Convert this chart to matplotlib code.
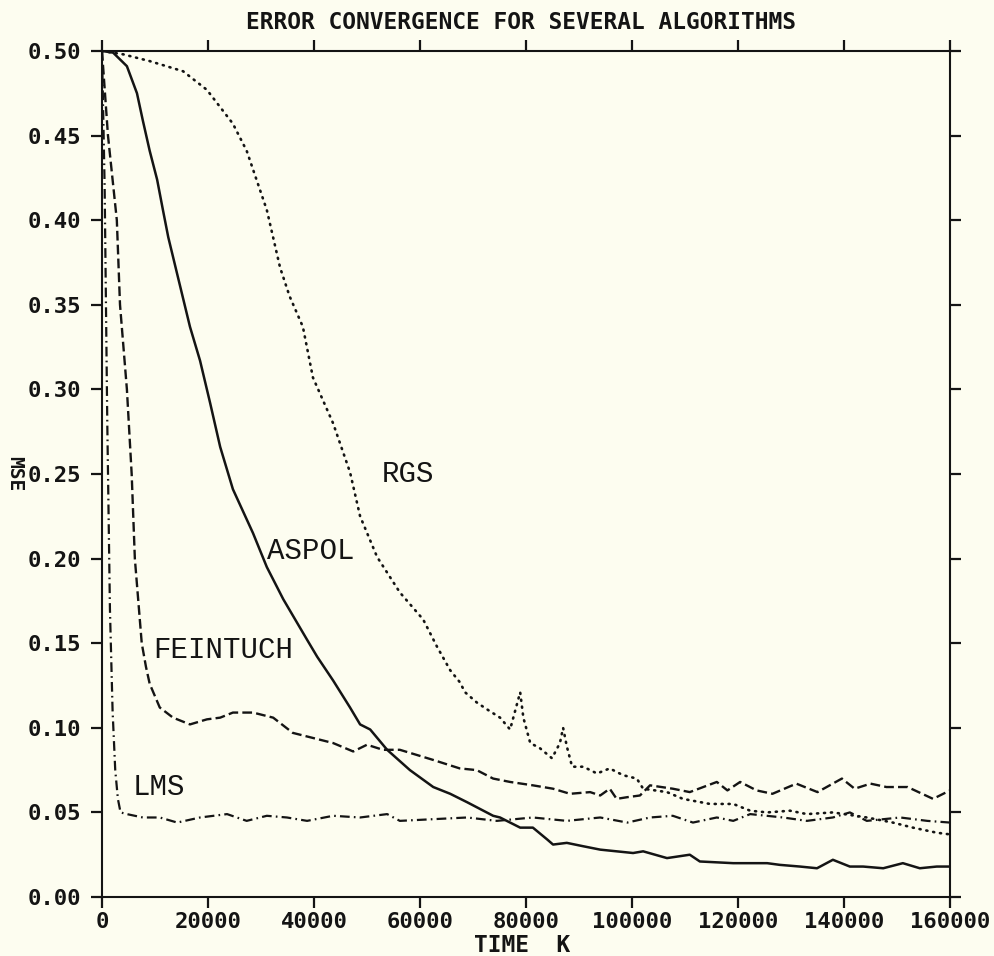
import matplotlib.pyplot as plt

plt.rcParams['lines.scale_dashes'] = False

# ---- mean squared error vs iteration count ----
lms_k = [0, 500, 1000, 1500, 2000, 2500, 3000, 3500, 4700, 7700, 10900, 14200,
         18500, 23600, 27300, 31100, 34900, 38700, 43600, 48700, 53800, 56200,
         62500, 68900, 74500, 81300, 87700, 94000, 99100, 103400, 107700,
         111500, 116000, 119100, 122300, 128500, 133000, 137900, 141100,
         144300, 150600, 155700, 160000]
lms_mse = [0.500, 0.420, 0.280, 0.170, 0.110, 0.075, 0.058, 0.050, 0.049,
           0.047, 0.047, 0.044, 0.047, 0.049, 0.045, 0.048, 0.047, 0.045,
           0.048, 0.047, 0.049, 0.045, 0.046, 0.047, 0.045, 0.047, 0.045,
           0.047, 0.044, 0.047, 0.048, 0.044, 0.047, 0.045, 0.049, 0.047,
           0.045, 0.047, 0.050, 0.045, 0.047, 0.045, 0.044]

fei_k = [0, 1130, 2800, 3400, 4700, 5600, 6200, 7500, 8300, 9000, 10900,
         13400, 16600, 19800, 22300, 24700, 28500, 32300, 36000, 39800,
         43600, 47400, 50000, 53000, 56200, 62500, 67500, 70700, 73800,
         77000, 81300, 85100, 88300, 92100, 94000, 95800, 97100, 99100,
         101500, 103400, 107700, 110900, 116000, 118000, 120400, 123500,
         126500, 131000, 135000, 139600, 142000, 145000, 148000, 152000,
         156800, 160000]
fei_mse = [0.500, 0.450, 0.400, 0.350, 0.300, 0.250, 0.200, 0.150, 0.136,
           0.126, 0.112, 0.106, 0.102, 0.105, 0.106, 0.109, 0.109, 0.106,
           0.097, 0.094, 0.091, 0.086, 0.090, 0.087, 0.087, 0.081, 0.076,
           0.075, 0.070, 0.068, 0.066, 0.064, 0.061, 0.062, 0.060, 0.064,
           0.058, 0.059, 0.060, 0.066, 0.064, 0.062, 0.068, 0.063, 0.068,
           0.063, 0.061, 0.067, 0.062, 0.070, 0.064, 0.067, 0.065, 0.065,
           0.058, 0.063]

aspol_k = [0, 2100, 4700, 6600, 7700, 9000, 10400, 11500, 12500, 14200,
           16600, 18500, 20400, 22300, 24700, 28500, 31100, 34200, 38700,
           40600, 43600, 46800, 48700, 50600, 53800, 58100, 62500, 65700,
           68900, 73800, 75100, 78900, 81300, 84000, 85100, 87700, 90800,
           94000, 100200, 102100, 106600, 110900, 112800, 119100, 122300,
           125500, 127900, 131700, 134900, 137900, 141100, 143600, 147400,
           151100, 154300, 157500, 160000]
aspol_mse = [0.500, 0.499, 0.491, 0.475, 0.459, 0.441, 0.424, 0.406, 0.390,
             0.368, 0.337, 0.317, 0.292, 0.266, 0.241, 0.215, 0.195, 0.176,
             0.152, 0.142, 0.128, 0.112, 0.102, 0.099, 0.087, 0.075, 0.065,
             0.061, 0.056, 0.048, 0.047, 0.041, 0.041, 0.034, 0.031, 0.032,
             0.030, 0.028, 0.026, 0.027, 0.023, 0.025, 0.021, 0.020, 0.020,
             0.020, 0.019, 0.018, 0.017, 0.022, 0.018, 0.018, 0.017, 0.020,
             0.017, 0.018, 0.018]

rgs_k = [0, 4000, 9000, 15300, 19800, 24700, 27300, 31100, 33600, 35400,
         37900, 39800, 43600, 46800, 48700, 51900, 56200, 60600, 63200,
         65700, 67500, 68500, 70700, 72600, 75100, 77000, 78900, 79500,
         80800, 82600, 84900, 86400, 87000, 87700, 88700, 90800, 93400,
         95800, 98300, 100900, 102100, 106600, 109600, 114700, 119100,
         122300, 125500, 129800, 133000, 137900, 144300, 149200, 153000,
         157500, 160000]
rgs_mse = [0.500, 0.498, 0.494, 0.488, 0.477, 0.457, 0.441, 0.406, 0.372,
           0.355, 0.337, 0.307, 0.280, 0.251, 0.225, 0.201, 0.180, 0.164,
           0.148, 0.134, 0.127, 0.121, 0.115, 0.111, 0.106, 0.099, 0.121,
           0.106, 0.091, 0.088, 0.082, 0.091, 0.100, 0.089, 0.077, 0.077,
           0.073, 0.076, 0.072, 0.070, 0.064, 0.062, 0.058, 0.055, 0.055,
           0.051, 0.050, 0.051, 0.049, 0.050, 0.047, 0.044, 0.041, 0.038,
           0.037]

# label name, left edge (k), vertical centre (mse)
curve_labels = ["RGS", "ASPOL", "FEINTUCH", "LMS"]
label_k = [52800, 31100, 9600, 5850]
label_mse = [0.250, 0.2045, 0.146, 0.065]

x_ticks = [0, 20000, 40000, 60000, 80000, 100000, 120000, 140000, 160000]
y_ticks = [0.00, 0.05, 0.10, 0.15, 0.20, 0.25, 0.30, 0.35, 0.40, 0.45, 0.50]

paper = '#fdfdf0'
ink = '#141414'
plot_font = 'DejaVu Sans Mono'

fig = plt.figure(figsize=(9.95, 9.56), dpi=100, facecolor=paper)
ax = fig.add_axes([0.1025, 0.0617, 0.8523, 0.885], facecolor=paper)

ax.plot(aspol_k, aspol_mse, color=ink, lw=1.8, solid_joinstyle='round')
ax.plot(fei_k, fei_mse, color=ink, lw=1.7, dashes=(7, 3), dash_capstyle='butt')
ax.plot(rgs_k, rgs_mse, color=ink, lw=1.9, dashes=(0.8, 4.2), dash_capstyle='round')
ax.plot(lms_k, lms_mse, color=ink, lw=1.6, dashes=(7, 3, 1.2, 3), dash_capstyle='butt')

for name, k, m in zip(curve_labels, label_k, label_mse):
    ax.text(k, m, name, family='Liberation Mono', fontsize=21, color=ink,
            ha='left', va='center')

ax.set_xlim(0, 160000)
ax.set_ylim(0, 0.5)
ax.set_xticks(x_ticks)
ax.set_xticklabels([str(v) for v in x_ticks])
ax.set_yticks(y_ticks)
ax.set_yticklabels(['%.2f' % v for v in y_ticks])

for s in ax.spines.values():
    s.set_linewidth(1.5)
    s.set_color(ink)

ax.tick_params(direction='out', length=8, width=1.6, color=ink,
               top=True, right=True, labeltop=False, labelright=False)
ax.tick_params(axis='x', pad=3)
ax.tick_params(axis='y', pad=7)
for lab in ax.get_xticklabels() + ax.get_yticklabels():
    lab.set_family(plot_font)
    lab.set_fontweight('bold')
    lab.set_fontsize(16)
    lab.set_color(ink)

fig.text(0.5236, 0.976, 'ERROR CONVERGENCE FOR SEVERAL ALGORITHMS',
         family=plot_font, fontweight='bold', fontsize=16.5, color=ink,
         ha='center', va='center')
fig.text(0.5246, 0.0105, 'TIME  K', family=plot_font, fontweight='bold',
         fontsize=16.5, color=ink, ha='center', va='center')
fig.text(0.0151, 0.505, 'MSE', family=plot_font, fontweight='bold',
         fontsize=14, color=ink, rotation=270, ha='center', va='center')

fig.savefig('out.png', dpi=100, facecolor=paper)
